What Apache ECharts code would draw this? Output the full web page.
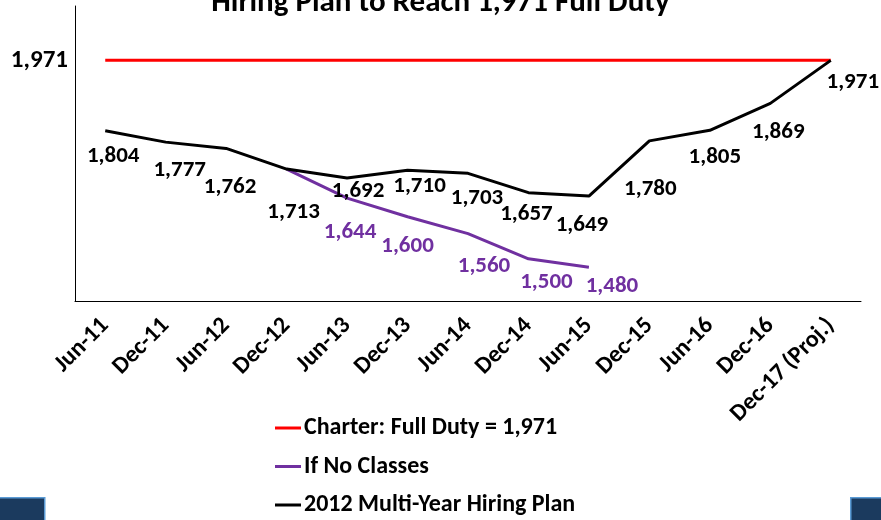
<!DOCTYPE html>
<html>
<head>
<meta charset="utf-8">
<script src="https://cdn.jsdelivr.net/npm/echarts@6/dist/echarts.min.js"></script>
<style>
  html, body { margin: 0; padding: 0; background: #fff; }
  #chart { width: 881px; height: 520px; }
</style>
</head>
<body>
<div id="chart"></div>
<script>
'use strict';

// data
const categories = ['Jun-11', 'Dec-11', 'Jun-12', 'Dec-12', 'Jun-13', 'Dec-13', 'Jun-14',
  'Dec-14', 'Jun-15', 'Dec-15', 'Jun-16', 'Dec-16', 'Dec-17 (Proj.)'];
const charter = [1971, 1971, 1971, 1971, 1971, 1971, 1971, 1971, 1971, 1971, 1971, 1971, 1971];
const noClasses = [null, null, null, 1713, 1644, 1600, 1560, 1500, 1480, null, null, null, null];
const hiringPlan = [1804, 1777, 1762, 1713, 1692, 1710, 1703, 1657, 1649, 1780, 1805, 1869, 1971];
const yTickLabels = [1971];

const FONT = 'Carlito, Lato, sans-serif';

// label nudges (label centre relative to point)
const planNudge = [[8, 26], [14, 28], [4, 39], [7, 43], [11, 13], [12, 16], [9, 25],
  [-2, 22], [-7, 29], [1, 48], [5, 27], [8, 29], [22, 22]];
const noClassNudge = {4: [3, 34], 5: [0, 30], 6: [16, 33], 7: [18, 23], 8: [23, 19]};

const fmt = v => v.toLocaleString('en-US');

const labelBase = {
  show: true,
  position: 'inside',
  fontFamily: FONT,
  fontWeight: 'bold',
  fontSize: 23,
  formatter: p => fmt(p.value)
};

const planData = hiringPlan.map((v, i) => ({
  value: v,
  label: Object.assign({}, labelBase, {color: '#000', offset: planNudge[i]})
}));

const noClassData = noClasses.map((v, i) => {
  if (v == null) return null;
  const n = noClassNudge[i];
  return {
    value: v,
    label: n ? Object.assign({}, labelBase, {color: '#7030a0', offset: n}) : {show: false}
  };
});

const chart = echarts.init(document.getElementById('chart'));

chart.setOption({
  animation: false,
  title: {
    text: 'Hiring Plan to Reach 1,971 Full Duty',
    left: 'center',
    top: -12,
    padding: 0,
    textStyle: {fontFamily: FONT, fontWeight: 'bold', fontSize: 31, color: '#000'}
  },
  grid: {left: 75, right: 20, top: 6, bottom: 219},
  legend: {
    orient: 'vertical',
    left: 275,
    top: 416,
    padding: 0,
    itemWidth: 26,
    itemHeight: 3,
    itemGap: 14.5,
    icon: 'rect',
    data: ['Charter: Full Duty = 1,971', 'If No Classes', '2012 Multi-Year Hiring Plan'],
    textStyle: {fontFamily: FONT, fontWeight: 'bold', fontSize: 24, color: '#000', lineHeight: 24, padding: [0, 0, 0, -2]}
  },
  xAxis: {
    type: 'category',
    data: categories,
    boundaryGap: true,
    axisLine: {lineStyle: {color: '#000', width: 1}},
    axisTick: {inside: true, length: 7, lineStyle: {color: '#808080'}},
    axisLabel: {
      rotate: 45,
      margin: 21,
      interval: 0,
      fontFamily: FONT,
      fontWeight: 'bold',
      fontSize: 24,
      color: '#000'
    }
  },
  yAxis: {
    type: 'value',
    min: 1400,
    max: 2100,
    splitLine: {show: false},
    axisLine: {show: true, lineStyle: {color: '#000', width: 1}},
    axisTick: {show: false},
    axisLabel: {
      customValues: yTickLabels,
      margin: 7,
      formatter: v => fmt(v),
      fontFamily: FONT,
      fontWeight: 'bold',
      fontSize: 25,
      color: '#000'
    }
  },
  series: [
    {
      name: 'Charter: Full Duty = 1,971',
      type: 'line',
      data: charter,
      symbol: 'none',
      lineStyle: {color: '#ff0000', width: 3},
      itemStyle: {color: '#ff0000'},
      z: 2
    },
    {
      name: 'If No Classes',
      type: 'line',
      data: noClassData,
      symbol: 'circle',
      symbolSize: 0.1,
      showSymbol: true,
      lineStyle: {color: '#7030a0', width: 3},
      itemStyle: {color: '#7030a0'},
      z: 3
    },
    {
      name: '2012 Multi-Year Hiring Plan',
      type: 'line',
      data: planData,
      symbol: 'circle',
      symbolSize: 0.1,
      showSymbol: true,
      lineStyle: {color: '#000', width: 3},
      itemStyle: {color: '#000'},
      z: 4
    }
  ],
  graphic: [
    {type: 'rect', left: -2, top: 497, shape: {width: 46, height: 30},
      style: {fill: '#1b3a5e', stroke: '#5b9bd5', lineWidth: 1.5}},
    {type: 'rect', left: 850, top: 497, shape: {width: 40, height: 30},
      style: {fill: '#1b3a5e', stroke: '#5b9bd5', lineWidth: 1.5}}
  ]
});
</script>
</body>
</html>
